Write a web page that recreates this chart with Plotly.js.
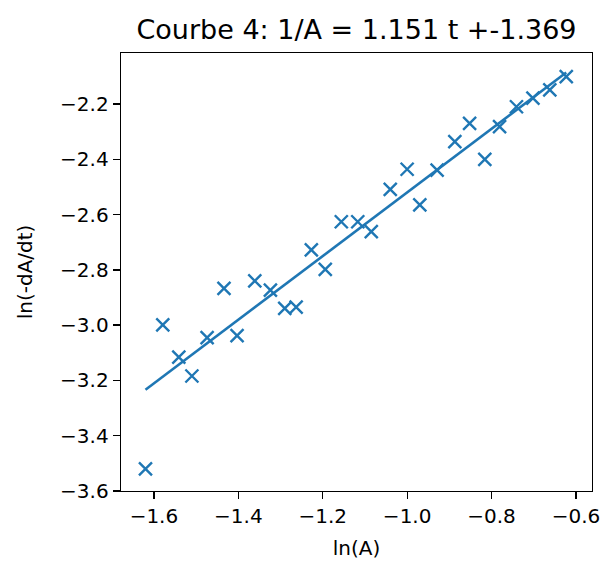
<!DOCTYPE html>
<html>
<head>
<meta charset="utf-8">
<script src="https://cdn.plot.ly/plotly-3.0.1.min.js"></script>
<style>html,body{margin:0;padding:0;background:#fff;}#chart{width:604px;height:563px;}</style>
</head>
<body>
<div id="chart"></div>
<script>
// Data
const lnA = [-1.620, -1.579, -1.541, -1.510, -1.474, -1.434, -1.403, -1.361, -1.324, -1.290,
             -1.263, -1.227, -1.194, -1.156, -1.117, -1.085, -1.040, -1.000, -0.970, -0.929,
             -0.887, -0.852, -0.816, -0.781, -0.741, -0.702, -0.662, -0.623];
const lnRate = [-3.520, -2.999, -3.116, -3.184, -3.045, -2.867, -3.038, -2.840, -2.873, -2.939,
                -2.935, -2.728, -2.798, -2.626, -2.626, -2.662, -2.509, -2.436, -2.565, -2.439,
                -2.336, -2.270, -2.400, -2.282, -2.210, -2.179, -2.149, -2.101];
const slope = 1.151;
const intercept = -1.369;
const titleText = "Courbe 4: 1/A = " + slope.toFixed(3) + " t +" + intercept.toFixed(3);

const fitX = [Math.min(...lnA), Math.max(...lnA)];
const fitY = fitX.map(v => slope * v + intercept);

const blue = "#1f77b4";
const font = "DejaVu Sans, sans-serif";

const traces = [
  {x: lnA, y: lnRate, type: "scatter", mode: "markers",
   marker: {symbol: "x-thin", size: 13, color: blue, line: {color: blue, width: 2.4}},
   hoverinfo: "skip"},
  {x: fitX, y: fitY, type: "scatter", mode: "lines",
   line: {color: blue, width: 2.6}, hoverinfo: "skip"}
];

const axisCommon = {
  showline: true, mirror: true, linecolor: "#000", linewidth: 1.3,
  ticks: "outside", ticklen: 7, tickwidth: 1.3, tickcolor: "#000",
  showgrid: false, zeroline: false, tickformat: ".1f",
  tickfont: {family: font, size: 20, color: "#000"}
};

const layout = {
  width: 604, height: 563,
  margin: {l: 121, r: 12, t: 53, b: 72},
  paper_bgcolor: "#fff", plot_bgcolor: "#fff",
  showlegend: false,
  title: {text: titleText, font: {family: font, size: 27, color: "#000"},
          x: 0.5, xref: "paper", y: 1 - 30/563, yref: "container", yanchor: "middle", xanchor: "center"},
  xaxis: Object.assign({}, axisCommon, {
    range: [-1.678, -0.562], tick0: -1.6, dtick: 0.2,
    title: {text: "ln(A)", font: {family: font, size: 20, color: "#000"}, standoff: 13}
  }),
  yaxis: Object.assign({}, axisCommon, {
    range: [-3.6, -2.0155], tick0: -3.6, dtick: 0.2,
    title: {text: "ln(-dA/dt)", font: {family: font, size: 20, color: "#000"}, standoff: 22}
  })
};

Plotly.newPlot("chart", traces, layout, {staticPlot: true, displayModeBar: false});
</script>
</body>
</html>
